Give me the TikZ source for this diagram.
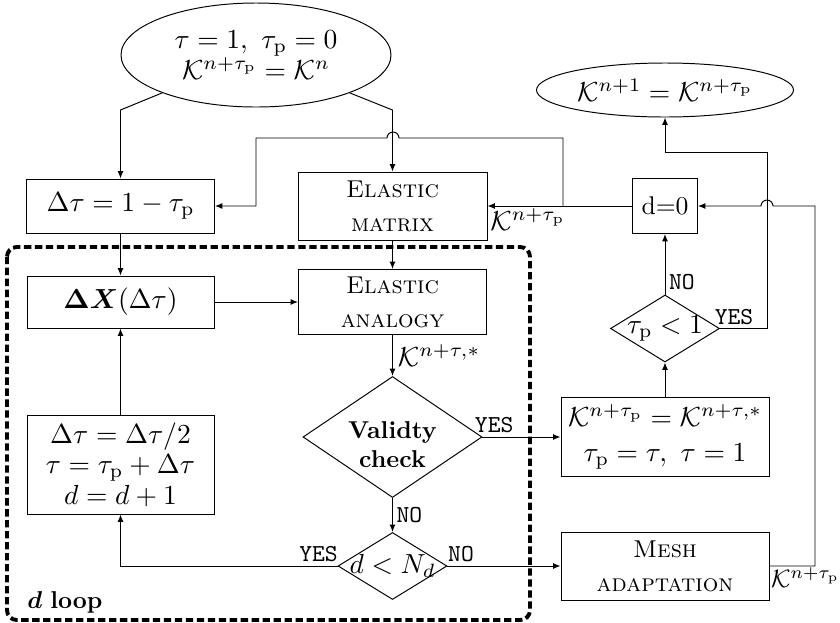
\RequirePackage{fix-cm}
\documentclass[tikz,border=0pt]{standalone}
\usepackage{amsmath,amssymb,bm}
\usetikzlibrary{shapes.geometric,arrows.meta,calc}
\begin{document}
\begin{tikzpicture}[x=0.41pt,y=0.41pt,
  >={Latex[length=3pt,width=2.4pt]},
  sz/.style 2 args={minimum width=#1*0.41pt,minimum height=#2*0.41pt},
  box/.style={draw,rectangle,align=center,inner sep=1pt},
  ell/.style={draw,ellipse,align=center,inner sep=0pt},
  dia/.style={draw,diamond,align=center,inner sep=0pt},
  mf/.style={font=\fontsize{11.3}{12.5}\selectfont},
  lbl/.style={font=\ttfamily,inner sep=1.5pt},
  loopbox/.style={line width=1.6pt,dash pattern=on 3pt off 1.5pt,rounded corners=4pt},
]
\useasboundingbox (0,0) rectangle (840,-623);

\draw[loopbox] (7,-247) rectangle (530,-620);
\node (looplbl) at (65,-602) {$\bm{d}$ \textbf{loop}};

\node[ell,mf,sz={270}{104}] (start) at (256,-55) {$\tau = 1,\ \tau_{\mathrm{p}} = 0$\\$\mathcal{K}^{n+\tau_{\mathrm{p}}} = \mathcal{K}^{n}$};
\node[ell,mf,sz={257}{54}] (end) at (665,-90) {$\mathcal{K}^{n+1} = \mathcal{K}^{n+\tau_{\mathrm{p}}}$};
\node[box,mf,sz={188}{54}] (dt) at (120.5,-206) {$\Delta\tau = 1 - \tau_{\mathrm{p}}$};
\node[box,sz={189}{68}] (em) at (392.5,-206) {\textsc{Elastic}\\[2pt]\textsc{matrix}};
\node[box,sz={65}{55},font=\fontsize{10.5}{12}\selectfont] (d0) at (665,-206) {d=0};
\node[box,mf,sz={187}{52}] (dx) at (120.5,-302) {$\bm{\Delta X}(\Delta\tau)$};
\node[box,sz={188}{65}] (ea) at (392.5,-302) {\textsc{Elastic}\\[2pt]\textsc{analogy}};
\node[box,mf,sz={187}{99}] (halve) at (120.5,-464.5) {$\Delta\tau = \Delta\tau/2$\\$\tau = \tau_{\mathrm{p}}+\Delta\tau$\\$d = d+1$};
\node[dia,aspect=1.48,sz={179}{121},label={[align=center,yshift=-3pt]center:\textbf{Validty}\\\textbf{check}}] (vc) at (392.5,-437) {};
\node[dia,mf,aspect=1.63,inner sep=-3pt,sz={109}{67}] (dn) at (392.5,-566) {$d < N_d$};
\node[box,mf,sz={208}{79}] (upd) at (665,-437) {$\mathcal{K}^{n+\tau_{\mathrm{p}}} = \mathcal{K}^{n+\tau,*}$\\[2pt]$\tau_{\mathrm{p}} = \tau,\ \tau = 1$};
\node[dia,mf,aspect=1.63,inner sep=-3pt,sz={109}{67}] (tp) at (665,-328.5) {$\tau_{\mathrm{p}} < 1$};
\node[box,sz={208}{68}] (mesh) at (665,-566) {\textsc{Mesh}\\[2pt]\textsc{adaptation}};

\draw[->] (start.202) -- (dt.north |- 0,-110) -- (dt.north);
\draw[->] (start.338) -- (em.north |- 0,-110) -- (em.north);
\draw[->] (dt.south) -- (dx.north);
\draw[->] (em.south) -- (ea.north);
\draw[->] (dx.east) -- (ea.west);
\draw[->] (ea.south) -- node[right,mf,inner sep=2pt]{$\mathcal{K}^{n+\tau,*}$} (vc.north);
\draw[->] (vc.south) -- node[lbl,right]{NO} (dn.north);
\draw[->] (dn.west) -| node[lbl,above left,pos=0,xshift=1.8pt]{YES} (halve.south);
\draw[->] (halve.north) -- (dx.south);
\draw[->] (vc.east) -- node[lbl,above,pos=0.15]{YES} (upd.west);
\draw[->] (dn.east) -- node[lbl,above,pos=0.12]{NO} (mesh.west);
\draw[->] (upd.north) -- (tp.south);
\draw[->] (tp.north) -- node[lbl,right,pos=0.2]{NO} (d0.south);
\draw[->] (tp.east) -- node[lbl,above,pos=0.3]{YES} (767,-328.5) -- (767,-152) -- (end.south |- 0,-152) -- (end.south);
\draw[->] (d0.west) -- (em.east) node[pos=1,below right,mf,inner sep=1pt]{$\mathcal{K}^{n+\tau_{\mathrm{p}}}$};
\coordinate (br) at (563,-206);
\draw[->] (br) -- (563,-138) -- (399,-138) arc (0:180:6) -- (256,-138) -- (256,-206) -- (dt.east);
\draw[->] (mesh.east) -- node[pos=0,below right,font=\fontsize{10.3}{12}\selectfont,inner sep=0.5pt]{$\mathcal{K}^{n+\tau_{\mathrm{p}}}$} (815,-566) -- (815,-206) -- (773,-206) arc (0:180:6) -- (d0.east);
\end{tikzpicture}
\end{document}
